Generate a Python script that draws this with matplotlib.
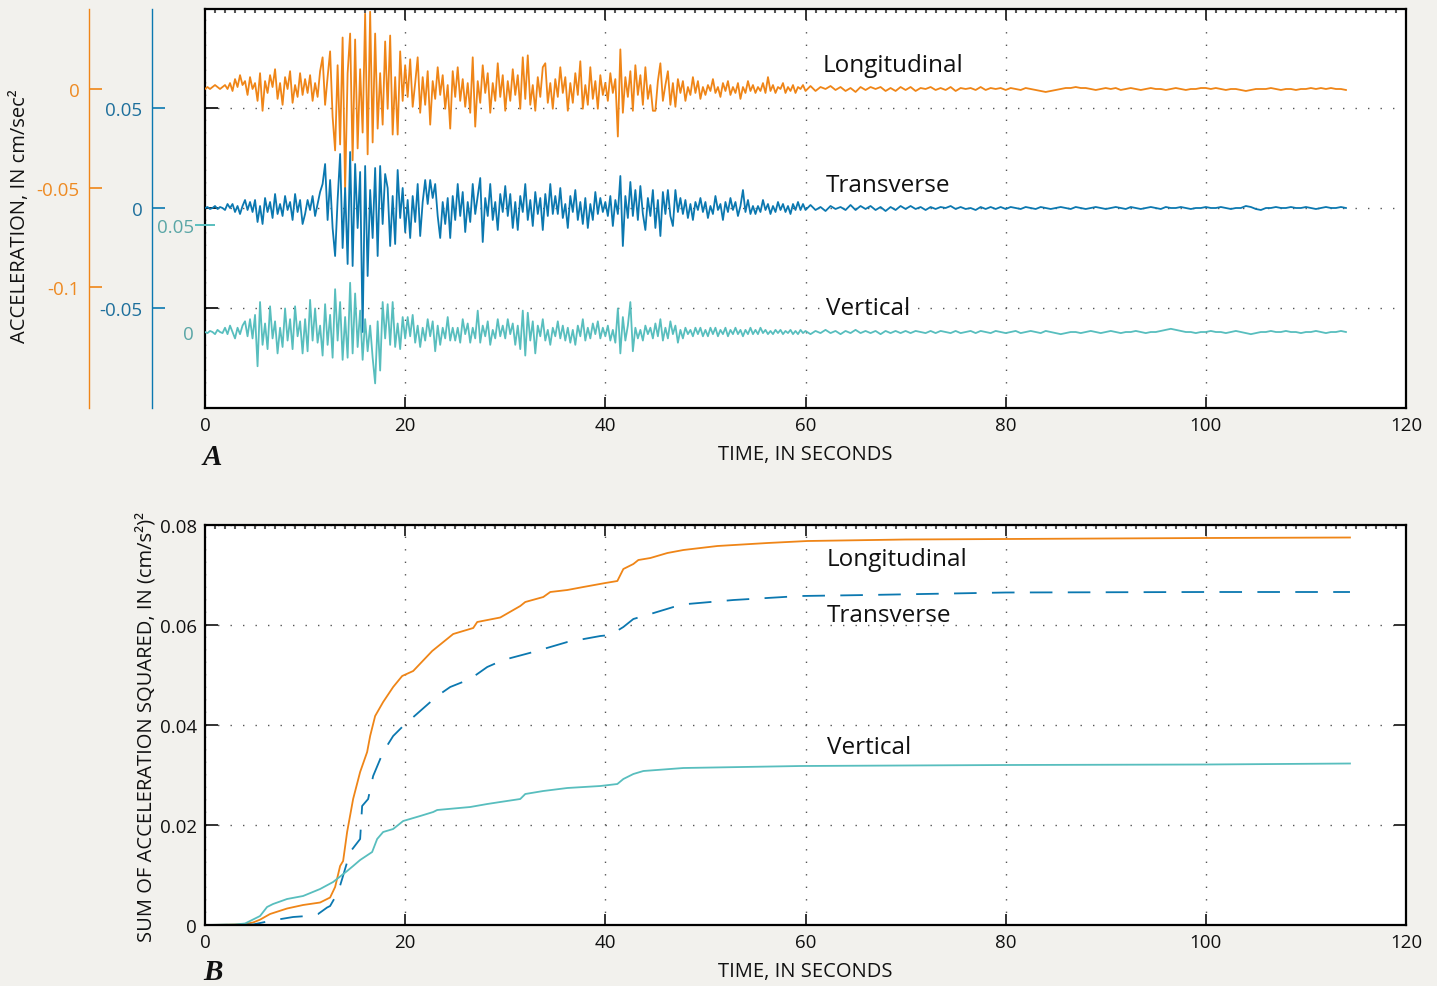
import numpy as np
import matplotlib
matplotlib.use("Agg")
import matplotlib.pyplot as plt
from matplotlib.ticker import MultipleLocator

plt.rcParams["font.family"] = ["Open Sans", "DejaVu Sans"]

ORANGE = "#ef8517"
BLUE = "#0b78b0"
TEAL = "#58bebe"
BG = "#f2f1ed"
INK = "#111111"

# accelerograms, in 0.001 cm/s^2
# first 60 s sampled every 0.25 s, the rest every 0.5 s
long_early = [
    0, 1, 0, 1, 2, 1, 0, 1, 2, 0, 3, -1, 5, 1, 7, 2, 4, -3, 6, 0,
    3, -6, 8, -11, 4, -2, 7, 1, 10, -5, 3, -8, 6, 0, 9, -7, 2, -4, 8, -3,
    5, -2, 7, -6, 3, -4, 9, 16, -8, 6, 19, -14, -31, 12, -28, 26, -51, 8, 28, -36,
    25, -30, 10, -22, 38, -33, 39, -27, 28, -20, 8, -18, 24, -10, 27, -23, 6, -23, 19, -6,
    12, -4, 15, -9, 3, 16, -12, 6, -8, 9, -18, 4, -5, 11, -3, 7, -10, 2, -20, 9,
    -4, 11, -6, 5, -9, 3, -12, 16, -19, 4, -7, 12, -2, 8, -12, 3, -6, 13, -4, 7,
    -11, 4, -6, 10, -3, 7, -10, 16, -5, 17, -8, 2, -11, 6, -4, 11, 13, -7, 3, -10,
    5, -4, 11, -2, 6, -11, 3, -7, 8, -3, 14, -10, 2, -8, 11, -5, 4, -10, 7, -3,
    3, -6, 8, -2, 5, -24, 20, -12, 6, -4, 9, -11, 12, -3, 7, -8, 11, -5, 2, -11,
    -11, 4, 13, -6, 2, 9, -8, 3, -9, 5, -2, 4, -6, 1, -3, 6, -2, 4, -5, 1,
    -3, 2, -1, 5, -2, 1, -4, 3, -1, 4, -3, 1, -2, 3, -5, 1, -2, 4, -1, 2,
    -2, 1, -1, 3, -2, 6, -1, 2, -2, 1, 0, 3, -2, 1, -1, 2, -2, 1, 0, 2,
]
long_late = [
    -1, 1.5, -1, 1, 0, 1.5, -0.5, 1, -1, 0.5, -1.5, 1, -0.5, 1, 0, 1, -1, 0.5, -1, 1,
    -0.5, 1, -1, 0.5, 0, 1, -0.5, 0.5, -0.5, 1, -1, 0.5, 0, 0.5, -0.5, 1, -0.5, 0.5, 0, 0.5,
    -0.5, 0.5, 0, -0.5, 0.5, 0, -0.5, -1, -1.5, -1, -0.5, 0, 0.5, 0.5, 1, 0.5, 0.5, 0, -0.5, 0,
    0.5, 0, 0.5, -0.5, 0, 0.5, 0, -0.5, 0, 0.5, 0, 0, -0.5, 0, 0.5, 0, -0.5, 0, 0, 0.5,
    0.5, 0, 0.5, 0, -0.5, 0, 0, -0.5, -1, -0.5, 0, 0, 0, 0.5, 0, -0.5, 0, 0, -0.5, 0,
    0, 0.5, 0, 0.5, 0, 0.5, 0, 0, -0.5,
]
trans_early = [
    0, 0.5, -0.5, 0, 1, -0.5, 0.5, 0, -1, 2, 0, 2, -2, 1, -3, 1, 4, -1, 3, -2,
    4, -7, 1, -8, 5, -2, 3, -5, 7, -3, 2, -4, 6, -1, 3, -6, 7, -2, 4, -8,
    -3, 4, -1, 6, -4, 2, 8, 12, 22, -6, 14, -10, -24, 4, 27, -20, 10, -28, 28, -29,
    22, -10, 18, -62, 21, -34, 9, -15, 20, -24, 21, -8, 17, 10, -19, 6, -18, 19, -5, 10,
    -12, 4, -15, 6, -7, 12, -14, 3, 14, 2, 14, 5, 12, -4, -15, 3, -8, 5, -15, 6,
    -6, 12, -4, 8, -12, 3, -7, 12, -3, 6, 15, -17, 5, -4, 12, -6, 3, -11, 7, -2,
    11, -4, 7, -10, 3, -11, 6, -2, 12, -6, 4, -9, 8, -3, 5, -11, 7, -4, 12, -3,
    6, -3, 10, -5, 2, -10, 6, -2, 9, -6, 3, -8, 5, -10, 2, -6, 8, -3, 5, -2,
    3, -4, 6, -9, 4, -3, 16, -19, 6, -5, 13, -4, 9, -6, 11, -3, -11, 5, -4, 9,
    -10, 4, -14, 8, -3, 9, -4, -9, 9, -2, 5, -3, 4, -5, 2, -6, 3, -1, 5, -2,
    3, -5, 1, -3, 6, -1, 2, -6, 3, -2, 5, -1, 3, -4, 1, 9, -2, 4, -3, 1,
    -3, 1, -2, 4, -1, 2, -3, 1, -2, 3, -1, 2, -2, 1, -3, 2, -1, 3, -1, 2,
]
trans_late = [
    -1, 1.5, -1, 0.5, -1.5, 1, -0.5, 0.5, -1, 1.5, -1, 1, -0.5, 1, -1, 0.5, -1.5, 0.5, -1, 1,
    -0.5, 1, -0.5, 0.5, -1, 0.5, -0.5, 0.5, 0, 1, -0.5, 0.5, -0.5, 0, -1, 0.5, -0.5, 0.5, -0.5, 0.5,
    -0.5, 0.5, 0, -0.5, 0.5, 0, -0.5, 0.5, 0, -0.5, 0, 0.5, 0, -0.5, 0.5, 0, -0.5, 0, 0.5, 0,
    -0.5, 0, 0.5, 0, -0.5, 0.5, 0, -0.5, 0, 0.5, 0, -0.5, 0.5, 0, 0, 0.5, 0, -0.5, 0, 0,
    0.5, 0, 0, 0.5, 0, -0.5, 0, 0, 1, 0.5, -0.5, -1, 0, 0, 0.5, 0, 0, 0.5, 0, 0,
    0.5, 0, -0.5, 0, 0.5, 0, 0, 0.5, 0,
]
vert_early = [
    0, -0.5, 0.5, 0, -1, 1, 0, -0.5, 2, -1, 3, 0, -3, 2, -1, 3, 5, -2, 6, -3,
    8, -16, 14, -6, 4, -8, 12, -3, 5, -10, 2, -7, 11, -4, 6, -8, 12, -2, 5, -10,
    6, -9, 15, -4, 11, -5, 3, -11, 13, -6, 8, -12, 20, -4, 14, -13, 7, -12, 23, -10,
    18, -7, 10, -13, 6, -9, 3, -12, -24, 5, -18, 14, -3, 13, -6, 14, -7, 4, -8, 7,
    -3, 7, -2, 8, -5, 3, -7, 2, -4, 6, -2, 5, -9, 3, -6, 2, -3, 7, -4, 2,
    -4, 2, -5, 6, -1, 4, -5, 2, -3, 10, -5, 3, -2, 5, -6, 1, -3, 6, -2, 3,
    -3, 6, -1, 4, -6, 3, -8, 10, -11, 9, -4, 5, -10, 3, -2, 6, -4, 1, -6, 2,
    -2, 5, -3, 3, -4, 2, -5, 1, -6, 3, -2, 6, -4, 2, -3, 4, -1, 5, -3, 2,
    -2, 3, -4, 1, -5, 11, -10, 7, -4, 3, 14, -9, 2, -3, 1, -4, 3, -1, 2, -3,
    4, -2, 6, -4, 2, -3, 5, -1, 3, -5, 1, -3, 2, -1, 1, -2, 2, -1, 2, -2,
    1, -2, 2, -1, 2, -2, 1, -1, 2, -2, 1, -1, 2, -1, 1, -2, 1, -1, 2, -1,
    1, -1, 2, -0.5, 1, -1, 0.5, -1, 1, -0.5, 1, -1, 0.5, -0.5, 1, -1, 0.5, -1, 1, -0.5,
]
vert_late = [
    0.5, -1, 0.5, -0.5, 1, -0.5, 0.5, -1, 0.5, -0.5, 1, -0.5, 0.5, -0.5, 0.5, -1, 0.5, -0.5, 0.5, -0.5,
    0.5, -0.5, 0.5, 0, -0.5, 0.5, -0.5, 0.5, 0, -0.5, 0.5, -0.5, 0, 0.5, -0.5, 0.5, 0, -0.5, 0.5, 0,
    -0.5, 0, 0.5, -0.5, 0, 0.5, 0, -0.5, 0.5, 0, -0.5, -1, -0.5, 0, 0, -0.5, 0, 0.5, 0, -0.5,
    0, 0.5, 0, -0.5, 0, 0, 0.5, 0, -0.5, 0, 0, 0.5, 1, 1.5, 1, 0.5, 0, 0, -0.5, 0,
    0, 0.5, 0, 0, -0.5, 0, 0.5, 0, -0.5, -1, -0.5, 0, 0, 0.5, 0, 0, 0.5, 0, 0, -0.5,
    0, 0, 0.5, 0, -0.5, 0, 0, 0.5, 0,
]

# running sum of acceleration squared, (cm/s^2)^2
cum_long_t = [0, 2, 3, 4, 4.8, 5.5, 6.5, 8.2, 9.8, 11.5, 12.5, 13.0, 13.5, 13.8, 14.2,
              14.8, 15.5, 16.2, 16.5, 17.0, 17.8, 18.8, 19.7, 20.8, 22.7, 24.8, 26.8,
              27.2, 29.5, 31.5, 32.0, 33.8, 34.5, 36.2, 37.8, 40.0, 41.2, 41.8, 42.8,
              43.3, 44.5, 46.2, 47.8, 51.2, 56.2, 60.2, 70, 80, 90, 100, 114.4]
cum_long = [0, 0.00005, 0.0001, 0.0002, 0.0005, 0.00107, 0.0022, 0.0033, 0.0040, 0.0045,
            0.0055, 0.0076, 0.0118, 0.0128, 0.0186, 0.0252, 0.0306, 0.0346, 0.0378,
            0.0418, 0.0446, 0.0476, 0.0498, 0.0508, 0.0548, 0.0582, 0.0594, 0.0606,
            0.0615, 0.0638, 0.0646, 0.0656, 0.0666, 0.0670, 0.0676, 0.0684, 0.0688,
            0.0712, 0.0722, 0.0730, 0.0734, 0.0744, 0.0750, 0.0758, 0.0764, 0.0768,
            0.0771, 0.0772, 0.0773, 0.0774, 0.0775]
cum_trans_t = [0, 3, 4.8, 6.7, 8.8, 10.2, 11.3, 12.2, 12.5, 13.3, 13.7, 14.5, 15.5, 15.7,
               16.3, 16.8, 17.8, 18.8, 19.8, 21.5, 23.2, 24.5, 26.5, 28.2, 29.8, 32.8,
               36.2, 39.5, 40.5, 41.8, 42.8, 44.5, 46.8, 48.2, 52.8, 59.5, 66.2, 80, 100, 114.4]
cum_trans = [0, 0.00005, 0.0001, 0.0009, 0.0016, 0.0018, 0.0022, 0.0035, 0.0038, 0.0066,
             0.0092, 0.0146, 0.0172, 0.0238, 0.0252, 0.0298, 0.0346, 0.0378, 0.0398,
             0.0428, 0.0458, 0.0476, 0.0492, 0.0516, 0.0530, 0.0546, 0.0566, 0.0578,
             0.0580, 0.0596, 0.0612, 0.0622, 0.0636, 0.0642, 0.0650, 0.0658, 0.0660,
             0.0665, 0.0666, 0.0666]
cum_vert_t = [0, 3, 4.0, 4.8, 5.5, 6.2, 6.8, 8.2, 9.8, 11.5, 12.8, 14.2, 14.8, 15.5, 16.7,
              17.2, 17.8, 18.8, 19.8, 21.5, 22.8, 23.2, 26.5, 28.2, 29.5, 31.5, 32.0,
              33.8, 36.2, 39.5, 41.2, 41.8, 42.8, 43.8, 47.8, 59.5, 80, 100, 114.4]
cum_vert = [0, 0.0001, 0.0003, 0.0011, 0.0018, 0.0036, 0.0042, 0.0052, 0.0058, 0.0072,
            0.0086, 0.0108, 0.0118, 0.0130, 0.0146, 0.0172, 0.0186, 0.0192, 0.0208,
            0.0218, 0.0226, 0.0230, 0.0236, 0.0242, 0.0246, 0.0252, 0.0262, 0.0268,
            0.0274, 0.0278, 0.0282, 0.0292, 0.0302, 0.0308, 0.0314, 0.0318, 0.0320,
            0.0321, 0.0323]


def trace(early, late):
    t = np.concatenate([np.arange(len(early)) * 0.25, 60 + np.arange(len(late)) * 0.5])
    a = np.array(early + late, dtype=float) * 0.001
    return t, a


def grid_style(ax):
    ax.grid(True, color="#555555", linestyle=(0, (1, 8)), linewidth=1.0)
    ax.set_axisbelow(True)


def frame_style(ax):
    ax.set_facecolor("white")
    for s in ax.spines.values():
        s.set_linewidth(1.6)
        s.set_color("black")
    ax.set_xlim(0, 120)
    ax.set_xticks(range(0, 121, 20))
    ax.xaxis.set_minor_locator(MultipleLocator(1))
    ax.tick_params(axis="x", which="major", direction="in", length=8, width=1.2,
                   top=True, bottom=True, labelsize=13.5, pad=6, colors=INK)
    ax.tick_params(axis="x", which="minor", direction="in", length=3, width=1.5,
                   top=True, bottom=False, colors="#555555")
    ax.set_xlabel("TIME, IN SECONDS", fontsize=14.5, labelpad=7, color=INK)


fig = plt.figure(figsize=(14.37, 9.87), dpi=100, facecolor=BG)

# ---- panel A ----
ax = fig.add_axes([0.14266, 0.58561, 0.83577, 0.40426])
frame_style(ax)
ax.set_ylim(-0.1, 0.0995)
ax.set_yticks([-0.05, 0, 0.05])
ax.tick_params(axis="y", direction="in", length=9, width=1.2, left=False, right=True,
               labelleft=False)
grid_style(ax)

ax_o = ax.twinx()
ax_b = ax.twinx()
ax_t = ax.twinx()
specs = [
    (ax_o, (-0.1611, 0.0404), [-0.1, -0.05, 0], ["-0.1", "-0.05", "0"], -0.0966, ORANGE, "#ee8a22"),
    (ax_b, (-0.1, 0.0995), [-0.05, 0, 0.05], ["-0.05", "0", "0.05"], -0.0441, BLUE, "#1e6f9c"),
    (ax_t, (-0.0355, 0.1509), [0, 0.05], ["0", "0.05"], 0.0, TEAL, "#5aa6a6"),
]
for a, lim, ticks, labels, pos, col, lcol in specs:
    a.set_ylim(*lim)
    a.patch.set_visible(False)
    for name in ("top", "bottom", "right"):
        a.spines[name].set_visible(False)
    a.spines["left"].set_visible(pos != 0.0)
    a.spines["left"].set_position(("axes", pos))
    a.spines["left"].set_color(col)
    a.spines["left"].set_linewidth(1.0)
    a.yaxis.set_ticks_position("left")
    a.set_yticks(ticks, labels)
    if pos != 0.0:
        a.tick_params(axis="y", direction="in", length=9.4, width=1.2, color=col,
                      labelcolor=lcol, labelsize=13.5, pad=7)
    else:
        a.tick_params(axis="y", direction="inout", length=14, width=1.4, color=col,
                      labelcolor=lcol, labelsize=13.5, pad=1)
        a.yaxis.get_major_ticks()[0].tick1line.set_visible(False)

t, a = trace(long_early, long_late)
ax_o.plot(t, a, color=ORANGE, lw=1.3)
t, a = trace(vert_early, vert_late)
ax_t.plot(t, a, color=TEAL, lw=1.3)
t, a = trace(trans_early, trans_late)
ax_b.plot(t, a, color=BLUE, lw=1.3)

ax.text(61.7, 0.0715, "Longitudinal", fontsize=17.5, va="center", ha="left", color=INK, zorder=5)
ax.text(62.0, 0.0115, "Transverse", fontsize=17.5, va="center", ha="left", color=INK, zorder=5)
ax.text(62.0, -0.05, "Vertical", fontsize=17.5, va="center", ha="left", color=INK, zorder=5)

fig.text(20 / 1437, 1 - 216 / 987, "ACCELERATION, IN cm/sec²", rotation=90,
         ha="center", va="center", fontsize=14.5, color=INK)
fig.text(203 / 1437, 1 - 458 / 987, "A", fontfamily="Liberation Serif", fontweight="bold",
         fontstyle="italic", fontsize=21, ha="left", va="center", color=INK)

# ---- panel B ----
bx = fig.add_axes([0.14266, 0.06180, 0.83577, 0.40527])
frame_style(bx)
bx.set_ylim(0, 0.08)
bx.set_yticks([0, 0.02, 0.04, 0.06, 0.08], ["0", "0.02", "0.04", "0.06", "0.08"])
bx.tick_params(axis="y", direction="in", length=9, width=1.2, left=True, right=True,
               labelsize=13.5, pad=6, colors=INK)
grid_style(bx)

bx.plot(cum_long_t, cum_long, color=ORANGE, lw=1.3)
bx.plot(cum_trans_t, cum_trans, color=BLUE, lw=1.3, dashes=(12.5, 8.5))
bx.plot(cum_vert_t, cum_vert, color=TEAL, lw=1.3)

bx.text(62.1, 0.0732, "Longitudinal", fontsize=17.5, va="center", ha="left", color=INK)
bx.text(62.1, 0.0620, "Transverse", fontsize=17.5, va="center", ha="left", color=INK)
bx.text(62.1, 0.0356, "Vertical", fontsize=17.5, va="center", ha="left", color=INK)

fig.text(146 / 1437, 1 - 727 / 987, "SUM OF ACCELERATION SQUARED, IN (cm/s²)²", rotation=90,
         ha="center", va="center", fontsize=14.5, color=INK)
fig.text(203 / 1437, 1 - 973 / 987, "B", fontfamily="Liberation Serif", fontweight="bold",
         fontstyle="italic", fontsize=21, ha="left", va="center", color=INK)

fig.savefig("out.png", dpi=100, facecolor=BG)
